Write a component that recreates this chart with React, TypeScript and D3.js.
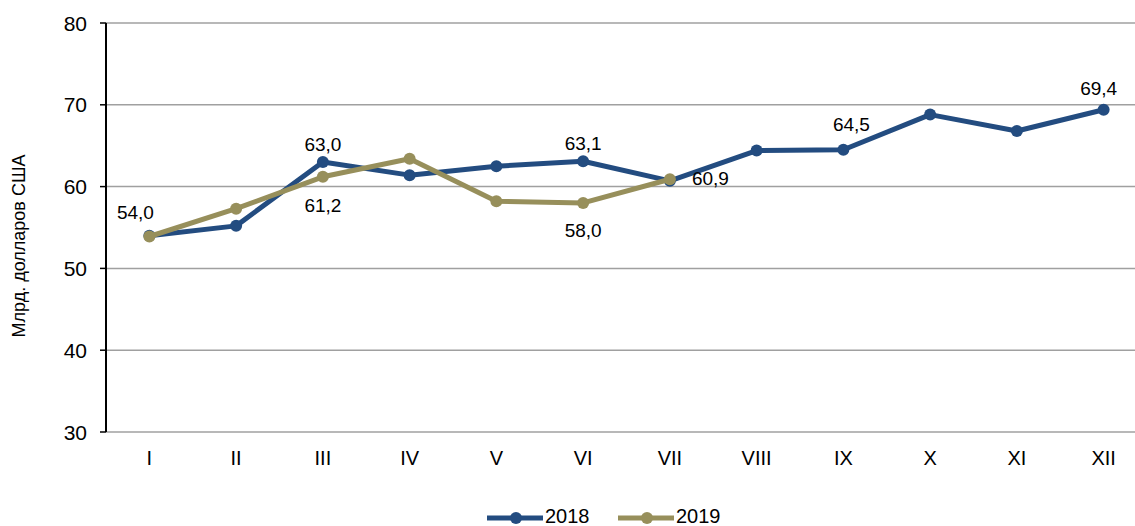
import React from "react";
import * as d3 from "d3";

const months = ["I", "II", "III", "IV", "V", "VI", "VII", "VIII", "IX", "X", "XI", "XII"];
const values2018 = [54.0, 55.2, 63.0, 61.4, 62.5, 63.1, 60.7, 64.4, 64.5, 68.8, 66.8, 69.4];
const values2019 = [53.9, 57.3, 61.2, 63.4, 58.2, 58.0, 60.9];
const yTicks = [30, 40, 50, 60, 70, 80];
const labels2018: { i: number; text: string; dx: number; dy: number; anchor: string }[] = [
  { i: 0, text: "54,0", dx: -14, dy: -17, anchor: "middle" },
  { i: 2, text: "63,0", dx: 0, dy: -11, anchor: "middle" },
  { i: 5, text: "63,1", dx: 0, dy: -11, anchor: "middle" },
  { i: 8, text: "64,5", dx: 8, dy: -19, anchor: "middle" },
  { i: 11, text: "69,4", dx: -5, dy: -15, anchor: "middle" },
];
const labels2019: { i: number; text: string; dx: number; dy: number; anchor: string }[] = [
  { i: 2, text: "61,2", dx: 0, dy: 35, anchor: "middle" },
  { i: 5, text: "58,0", dx: 0, dy: 34, anchor: "middle" },
  { i: 6, text: "60,9", dx: 22, dy: 6, anchor: "start" },
];

const C2018 = "#234C80";
const C2019 = "#978F5B";
const FONT = "Liberation Sans, Arial, sans-serif";

export default function App() {
  const W = 1135, H = 526;
  const left = 106, right = 1147, top = 23, bottom = 432;
  const x = d3.scaleBand<string>().domain(months).range([left, right]);
  const cx = (i: number) => (x(months[i]) as number) + x.bandwidth() / 2;
  const y = d3.scaleLinear().domain([30, 80]).range([bottom, top]);
  const line = d3.line<number>().x((_, i) => cx(i)).y((d) => y(d));

  const series = [
    { vals: values2018, color: C2018, labels: labels2018 },
    { vals: values2019, color: C2019, labels: labels2019 },
  ];

  return (
    <svg width={W} height={H} style={{ position: "absolute", left: 0, top: 0, background: "#fff" }} fontFamily={FONT}>
      {yTicks.map((t) => (
        <g key={t}>
          <line x1={left} x2={W} y1={y(t)} y2={y(t)} stroke="#A0A0A0" strokeWidth={1.5} />
          <line x1={left - 6} x2={left} y1={y(t)} y2={y(t)} stroke="#000" strokeWidth={1.5} />
          <text x={87} y={y(t) + 7.5} textAnchor="end" fontSize={21} fill="#000">{t}</text>
        </g>
      ))}
      <line x1={left} x2={left} y1={top} y2={bottom} stroke="#000" strokeWidth={2} />
      {months.map((m, i) => (
        <text key={m} x={cx(i)} y={465} textAnchor="middle" fontSize={20} fill="#000">{m}</text>
      ))}
      <text transform={`translate(25,${246}) rotate(-90)`} textAnchor="middle" fontSize={18} fill="#000">Млрд. долларов США</text>
      {series.map((s, k) => (
        <g key={k}>
          <path d={line(s.vals) || ""} fill="none" stroke={s.color} strokeWidth={5} strokeLinejoin="round" />
          {s.vals.map((v, i) => (
            <circle key={i} cx={cx(i)} cy={y(v)} r={6} fill={s.color} />
          ))}
        </g>
      ))}
      {series.map((s, k) =>
        s.labels.map((l) => (
          <text key={`${k}-${l.i}`} x={cx(l.i) + l.dx} y={y(s.vals[l.i]) + l.dy} textAnchor={l.anchor as any} fontSize={19} fill="#000">{l.text}</text>
        ))
      )}
      <g>
        <line x1={487} x2={543} y1={518} y2={518} stroke={C2018} strokeWidth={5} />
        <circle cx={516} cy={518} r={6} fill={C2018} />
        <text x={545} y={523} fontSize={20} fill="#000">2018</text>
        <line x1={618} x2={674} y1={518} y2={518} stroke={C2019} strokeWidth={5} />
        <circle cx={647} cy={518} r={6} fill={C2019} />
        <text x={676} y={523} fontSize={20} fill="#000">2019</text>
      </g>
    </svg>
  );
}
